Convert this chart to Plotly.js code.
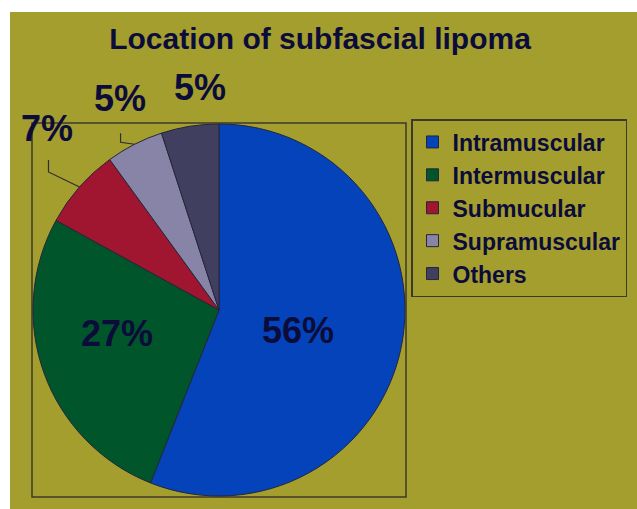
<!DOCTYPE html>
<html>
<head>
<meta charset="utf-8">
<script src="https://cdn.plot.ly/plotly-3.0.1.min.js"></script>
<style>html,body{margin:0;padding:0;background:#fff;}#chart{width:637px;height:509px;}</style>
</head>
<body>
<div id="chart"></div>
<script>
// ---- data ----
const categories = ['Intramuscular', 'Intermuscular', 'Submucular', 'Supramuscular', 'Others'];
const values = [56, 27, 7, 5, 5];
const chartTitle = 'Location of subfascial lipoma';

// ---- style ----
const W = 637, H = 509;
const colors = ['#0443B9', '#00552A', '#A0152F', '#8884A8', '#413F60'];
const textColor = '#0c0c3a';
const olive = '#A49E2F';
const fontFam = 'Arial, "Liberation Sans", sans-serif';
const pieCx = 219, pieCy = 310, pieR = 186;           // pixel geometry of the pie domain
// label placement relative to each slice's rim point (mid-angle), and elbow leader lines
const labelStyle = [
  {lab: [-104, -14], elbow: null},
  {lab: [73, -40], elbow: null},
  {lab: [-32, -58], elbow: [-31, -15], top: [-31, -27]},
  {lab: [-15, -46], elbow: [-14, -2], top: [-14, -11]},
  {lab: [10, -39], elbow: null}
];

const px = x => x / W;
const py = y => 1 - y / H;

const total = values.reduce((a, b) => a + b, 0);
const annotations = [];
const shapes = [
  {type: 'rect', xref: 'paper', yref: 'paper', x0: px(10), x1: 1, y0: 0, y1: py(12),
   fillcolor: olive, line: {width: 0}, layer: 'below'},
  {type: 'rect', xref: 'paper', yref: 'paper', x0: px(32), x1: px(406), y0: py(497), y1: py(123),
   fillcolor: 'rgba(0,0,0,0)', line: {color: '#3b3a2c', width: 1.5}, layer: 'below'}
];
let cum = 0;
values.forEach((v, i) => {
  const f = (cum + v / 2) / total;
  cum += v;
  const th = 2 * Math.PI * f;
  const rx = pieCx + pieR * Math.sin(th);
  const ry = pieCy - pieR * Math.cos(th);
  const st = labelStyle[i];
  annotations.push({
    xref: 'paper', yref: 'paper', x: px(rx + st.lab[0]), y: py(ry + st.lab[1]),
    xanchor: 'center', yanchor: 'middle', showarrow: false,
    text: v + '%', font: {family: fontFam, size: 36, weight: 'bold', color: textColor}
  });
  if (st.elbow) {
    shapes.push({
      type: 'path', xref: 'paper', yref: 'paper',
      path: 'M' + px(rx) + ',' + py(ry) + ' L' + px(rx + st.elbow[0]) + ',' + py(ry + st.elbow[1]) +
            ' L' + px(rx + st.top[0]) + ',' + py(ry + st.top[1]),
      line: {color: '#2e2e30', width: 1.2}
    });
  }
});

const trace = {
  type: 'pie',
  labels: categories,
  values: values,
  sort: false,
  direction: 'clockwise',
  rotation: 0,
  marker: {colors: colors, line: {color: '#26263a', width: 1}},
  textinfo: 'none',
  domain: {x: [px(pieCx - pieR), px(pieCx + pieR)], y: [py(pieCy + pieR), py(pieCy - pieR)]},
  hoverinfo: 'label+percent'
};

const layout = {
  width: W, height: H,
  margin: {l: 0, r: 0, t: 0, b: 0},
  paper_bgcolor: '#ffffff',
  title: {text: chartTitle, x: px(320), xanchor: 'center', y: py(38), yanchor: 'middle',
          font: {family: fontFam, size: 30, weight: 'bold', color: textColor}},
  showlegend: true,
  legend: {x: px(411), y: py(119), xanchor: 'left', yanchor: 'top',
           bgcolor: 'rgba(0,0,0,0)', bordercolor: '#3b3a2c', borderwidth: 1.5,
           font: {family: fontFam, size: 23, weight: 'bold', color: textColor}},
  shapes: shapes,
  annotations: annotations
};

Plotly.newPlot('chart', [trace], layout, {displayModeBar: false, staticPlot: true});
</script>
</body>
</html>
